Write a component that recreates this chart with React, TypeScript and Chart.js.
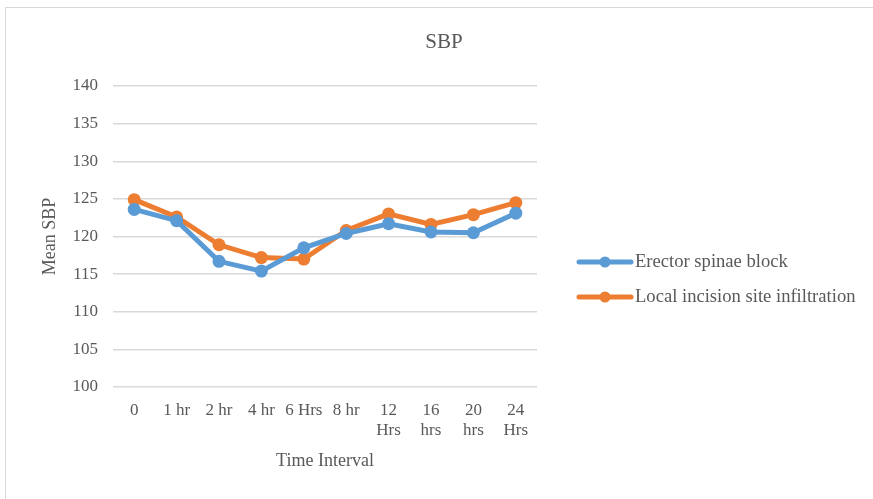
import React, { useEffect, useRef } from "react";
import { Chart, registerables } from "chart.js";

Chart.register(...registerables);

const categories: (string | string[])[] = [
  "0",
  "1 hr",
  "2 hr",
  "4 hr",
  "6 Hrs",
  "8 hr",
  ["12", "Hrs"],
  ["16", "hrs"],
  ["20", "hrs"],
  ["24", "Hrs"],
];
const erectorSpinae = [123.6, 122.1, 116.7, 115.4, 118.5, 120.4, 121.7, 120.6, 120.5, 123.1];
const localInfiltration = [124.9, 122.6, 118.9, 117.2, 117.0, 120.8, 123.0, 121.6, 122.9, 124.5];
const seriesNames = ["Erector spinae block", "Local incision site infiltration"];
const seriesColors = ["#5B9BD5", "#ED7D31"];
const chartTitle = "SBP";
const yMin = 100;
const yMax = 140;
const yStep = 5;

const FONT = "'Liberation Serif', 'Times New Roman', serif";
const TEXT = "#595959";
const GRID = "#d9d9d9";

const decorPlugin = {
  id: "decor",
  afterDraw(chart: any) {
    const ctx = chart.ctx as CanvasRenderingContext2D;
    ctx.save();
    // title
    ctx.fillStyle = TEXT;
    ctx.font = `21px ${FONT}`;
    ctx.textAlign = "center";
    ctx.textBaseline = "middle";
    ctx.fillText(chartTitle, 444, 42);
    // legend
    const x0 = 577;
    const lineW = 56;
    const rows = [262, 297];
    chart.data.datasets.forEach((ds: any, i: number) => {
      const y = rows[i];
      ctx.strokeStyle = ds.borderColor;
      ctx.lineWidth = 5;
      ctx.lineCap = "round";
      ctx.beginPath();
      ctx.moveTo(x0 + 2, y);
      ctx.lineTo(x0 + lineW - 2, y);
      ctx.stroke();
      ctx.fillStyle = ds.borderColor;
      ctx.beginPath();
      ctx.arc(x0 + lineW / 2, y, 5.5, 0, Math.PI * 2);
      ctx.fill();
      ctx.fillStyle = TEXT;
      ctx.font = `18.6px ${FONT}`;
      ctx.textBaseline = "middle";
      ctx.textAlign = "left";
      ctx.fillText(ds.label, x0 + lineW + 2, y);
    });
    ctx.restore();
  },
};

export default function App() {
  const ref = useRef<HTMLCanvasElement | null>(null);
  useEffect(() => {
    if (!ref.current) return;
    const mk = (i: number, data: number[]) => ({
      label: seriesNames[i],
      data,
      borderColor: seriesColors[i],
      backgroundColor: seriesColors[i],
      borderWidth: 5,
      pointRadius: 6.5,
      pointBorderWidth: 0,
      pointBackgroundColor: seriesColors[i],
      tension: 0,
    });
    const chart = new Chart(ref.current, {
      type: "line",
      data: {
        labels: categories as any,
        datasets: [mk(0, erectorSpinae), mk(1, localInfiltration)],
      },
      options: {
        responsive: false,
        animation: false,
        layout: { padding: { left: 0, right: 873 - 537, top: 86, bottom: 0 } },
        plugins: {
          legend: { display: false },
          tooltip: { enabled: false },
          title: { display: false },
        },
        scales: {
          x: {
            offset: true,
            grid: { display: false, drawTicks: false },
            border: { display: false },
            ticks: {
              color: TEXT,
              font: { family: FONT, size: 17, lineHeight: 1.2 },
              padding: 13,
              maxRotation: 0,
              minRotation: 0,
              autoSkip: false,
            },
            title: {
              display: true,
              text: "Time Interval",
              color: TEXT,
              font: { family: FONT, size: 18, lineHeight: 1.2 },
              padding: { top: 0, bottom: 27 },
            },
            afterFit(scale: any) {
              scale.height = 112;
            },
          },
          y: {
            min: yMin,
            max: yMax,
            grid: { color: GRID, lineWidth: 1.5, drawTicks: false },
            border: { display: false },
            ticks: {
              stepSize: yStep,
              color: TEXT,
              font: { family: FONT, size: 17 },
              padding: 15,
            },
            title: {
              display: true,
              text: "Mean SBP",
              color: TEXT,
              font: { family: FONT, size: 18, lineHeight: 1.2 },
              padding: { top: 39, bottom: 0 },
            },
            afterFit(scale: any) {
              scale.width = 113;
            },
          },
        },
      },
      plugins: [decorPlugin],
    });
    return () => chart.destroy();
  }, []);

  return (
    <div style={{ position: "fixed", left: 0, top: 0, width: 873, height: 499, background: "#fff" }}>
      <div
        style={{
          position: "absolute",
          left: 5,
          top: 7,
          width: 880,
          height: 500,
          borderLeft: `1px solid ${GRID}`,
          borderTop: `1px solid ${GRID}`,
        }}
      />
      <canvas ref={ref} width={873} height={499} style={{ position: "absolute", left: 0, top: 0 }} />
    </div>
  );
}
